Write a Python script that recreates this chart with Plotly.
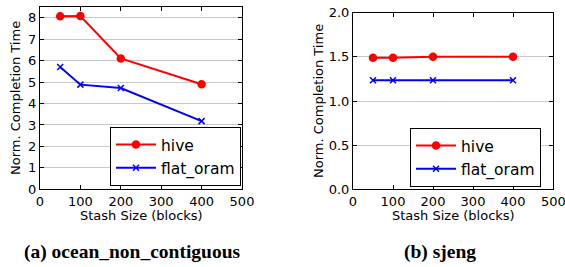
import plotly.graph_objects as go

stash = [50, 100, 200, 400]
hive_a = [8.07, 8.08, 6.1, 4.9]
flat_a = [5.7, 4.88, 4.72, 3.18]
hive_b = [1.49, 1.49, 1.50, 1.50]
flat_b = [1.235, 1.235, 1.235, 1.235]
captions = ["(a) ocean_non_contiguous", "(b) sjeng"]
xtitle = "Stash Size (blocks)"
ytitle = "Norm. Completion Time"
xmax = 500

RED = "#ff0000"
BLUE = "#0000ff"
FONT = "DejaVu Sans"

fig = go.Figure()

def add(x, y, name, color, sym, xa, ya, leg):
    fig.add_trace(go.Scatter(
        x=x, y=y, name=name, mode="lines+markers",
        line=dict(color=color, width=2),
        marker=dict(symbol=sym, size=7 if sym == "circle" else 6, color=color,
                    line=dict(color=color, width=1.5)),
        xaxis=xa, yaxis=ya, legend=leg, showlegend=True))

add(stash, hive_a, "hive", RED, "circle", "x", "y", "legend")
add(stash, flat_a, "flat_oram", BLUE, "x-thin", "x", "y", "legend")
add(stash, hive_b, "hive", RED, "circle", "x2", "y2", "legend2")
add(stash, flat_b, "flat_oram", BLUE, "x-thin", "x2", "y2", "legend2")

W, H = 565, 267
def fx(p): return p / W
def fy(p): return 1 - p / H

axis_common = dict(showline=True, linecolor="black", linewidth=1, mirror="ticks",
                   ticks="inside", ticklen=4, tickcolor="black",
                   tickfont=dict(family=FONT, size=13, color="black"),
                   zeroline=False, automargin=False)

def ann(text, x, y, size, family=FONT, angle=0):
    return dict(text=text, x=fx(x), y=fy(y), xref="paper", yref="paper",
                showarrow=False, textangle=angle, xanchor="center", yanchor="middle",
                font=dict(family=family, size=size, color="black"))

leg_common = dict(xanchor="left", yanchor="top", bordercolor="black", borderwidth=1,
                  bgcolor="white", font=dict(family=FONT, size=15.5), itemwidth=40,
                  tracegroupgap=0)

fig.update_layout(
    width=W, height=H, margin=dict(l=0, r=0, t=0, b=0),
    paper_bgcolor="white", plot_bgcolor="white",
    font=dict(family=FONT, color="black"),
    xaxis=dict(domain=[fx(40), fx(242)], range=[0, xmax], dtick=100, showgrid=False,
               anchor="y", **axis_common),
    yaxis=dict(domain=[fy(189.3), fy(7)], range=[0, 8.5], dtick=1, showgrid=True,
               gridcolor="#c8c8c8", gridwidth=1, anchor="x", **axis_common),
    xaxis2=dict(domain=[fx(353), fx(553)], range=[0, xmax], dtick=100, showgrid=False,
                anchor="y2", **axis_common),
    yaxis2=dict(domain=[fy(189.3), fy(12.7)], range=[0, 2.0], dtick=0.5, tickformat=".1f",
                showgrid=True, gridcolor="#c8c8c8", gridwidth=1, anchor="x2", **axis_common),
    legend=dict(x=fx(110), y=fy(127), **leg_common),
    legend2=dict(x=fx(410), y=fy(128), **leg_common),
    annotations=[
        ann(xtitle, 141, 215, 13),
        ann(xtitle, 453, 215, 13),
        ann(ytitle, 15, 98, 13, angle=-90),
        ann(ytitle, 318, 101, 13, angle=-90),
        ann("<b>" + captions[0] + "</b>", 132, 252, 19.5, family="Liberation Serif"),
        ann("<b>" + captions[1] + "</b>", 440, 252, 19.5, family="Liberation Serif"),
        dict(text=str(xmax), x=xmax, xref="x2", y=fy(201), yref="paper", showarrow=False,
             xanchor="center", yanchor="middle", font=dict(family=FONT, size=13, color="black")),
    ],
)

fig.write_html("out.html", config={"displayModeBar": False},
               post_script="document.body.style.margin='0';document.body.style.overflow='hidden';")
